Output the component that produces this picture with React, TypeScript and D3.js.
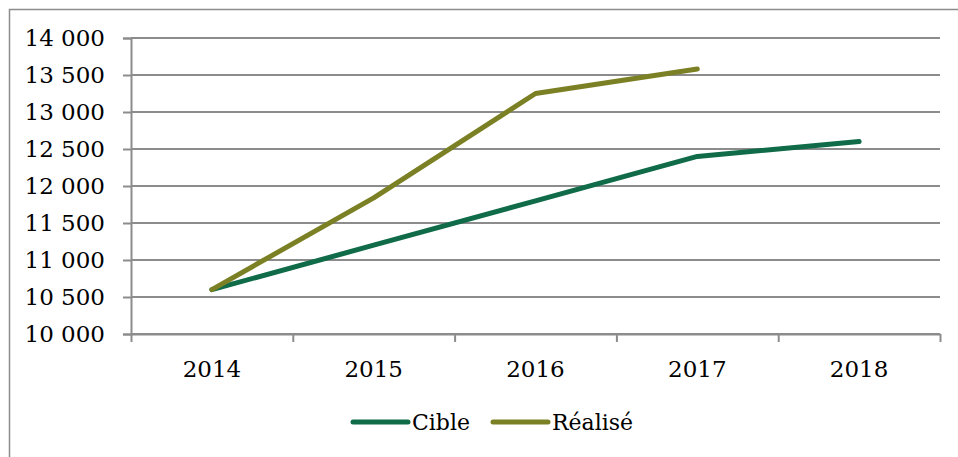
import * as d3 from 'd3'
import { useRef, useEffect } from 'react'

const years = ['2014', '2015', '2016', '2017', '2018']
const cible = [10600, 11200, 11800, 12400, 12600]
const realise = [10600, 11840, 13250, 13580]
const yTicks = [10000, 10500, 11000, 11500, 12000, 12500, 13000, 13500, 14000]
const seriesNames = ['Cible', 'Réalisé']
const seriesColors = ['#0f6b48', '#7b8024']

const W = 958
const H = 457
const FONT = '"DejaVu Serif", serif'

export default function App() {
    const svgRef = useRef<SVGSVGElement>(null)

    useEffect(() => {
        const svg = d3.select(svgRef.current)
        svg.selectAll('*').remove()

        const plot = { left: 131, right: 940, top: 38, bottom: 334 }

        // outer frame, right/bottom edges fall off the image
        svg.append('rect')
            .attr('x', 9.5).attr('y', 9.5)
            .attr('width', W + 20).attr('height', H + 20)
            .attr('fill', 'none')
            .attr('stroke', '#8c8c8c')
            .attr('stroke-width', 1.5)

        const x = d3.scaleBand()
            .domain(years)
            .range([plot.left, plot.right])

        const y = d3.scaleLinear()
            .domain([10000, 14000])
            .range([plot.bottom, plot.top])

        const fmt = (v: number) => d3.format(',')(v).replace(',', ' ')

        // y axis with gridlines
        const yAxis = svg.append('g')
            .attr('transform', `translate(${plot.left},0)`)
            .call(d3.axisLeft(y).tickValues(yTicks).tickFormat(d => fmt(+d)).tickSize(8).tickPadding(18))
        yAxis.select('.domain').attr('stroke', '#8c8c8c').attr('stroke-width', 2)
        yAxis.selectAll('.tick line').attr('stroke', '#8c8c8c').attr('stroke-width', 2)
        yAxis.selectAll('.tick text')
            .attr('font-family', FONT).attr('font-size', 23).attr('fill', '#000')

        svg.append('g')
            .selectAll('line')
            .data(yTicks)
            .join('line')
            .attr('x1', plot.left).attr('x2', plot.right)
            .attr('y1', d => y(d)).attr('y2', d => y(d))
            .attr('stroke', '#8c8c8c').attr('stroke-width', 2)

        // x axis
        const xEdges = d3.scaleLinear().domain([0, years.length]).range([plot.left, plot.right])
        const xAxis = svg.append('g')
            .attr('transform', `translate(0,${plot.bottom})`)
            .call(d3.axisBottom(xEdges).tickValues(d3.range(years.length + 1)).tickFormat(() => '').tickSize(8).tickSizeOuter(0))
        xAxis.select('.domain').attr('stroke', '#8c8c8c').attr('stroke-width', 2)
        xAxis.selectAll('.tick line').attr('stroke', '#8c8c8c').attr('stroke-width', 2)

        svg.append('g')
            .selectAll('text')
            .data(years)
            .join('text')
            .attr('x', d => (x(d) ?? 0) + x.bandwidth() / 2)
            .attr('y', 377)
            .attr('text-anchor', 'middle')
            .attr('font-family', FONT).attr('font-size', 23)
            .text(d => d)

        // lines
        const line = d3.line<number>()
            .x((_, i) => (x(years[i]) ?? 0) + x.bandwidth() / 2)
            .y(d => y(d))

        ;[cible, realise].forEach((s, i) => {
            svg.append('path')
                .datum(s)
                .attr('d', line)
                .attr('fill', 'none')
                .attr('stroke', seriesColors[i])
                .attr('stroke-width', 5)
                .attr('stroke-linecap', 'round')
                .attr('stroke-linejoin', 'round')
        })

        // legend
        const legendX = [353, 493]
        const legend = svg.append('g')
            .selectAll('g')
            .data(seriesNames)
            .join('g')
            .attr('transform', (_, i) => `translate(${legendX[i]},422)`)
        legend.append('line')
            .attr('x1', 0).attr('x2', 55)
            .attr('stroke', (_, i) => seriesColors[i])
            .attr('stroke-width', 5)
            .attr('stroke-linecap', 'round')
        legend.append('text')
            .attr('x', 59).attr('y', 8)
            .attr('font-family', FONT).attr('font-size', 22)
            .text(d => d)
    }, [])

    return (
        <svg ref={svgRef} width={W} height={H}
            style={{ display: 'block', position: 'absolute', left: 0, top: 0, background: '#fff' }}></svg>
    )
}
